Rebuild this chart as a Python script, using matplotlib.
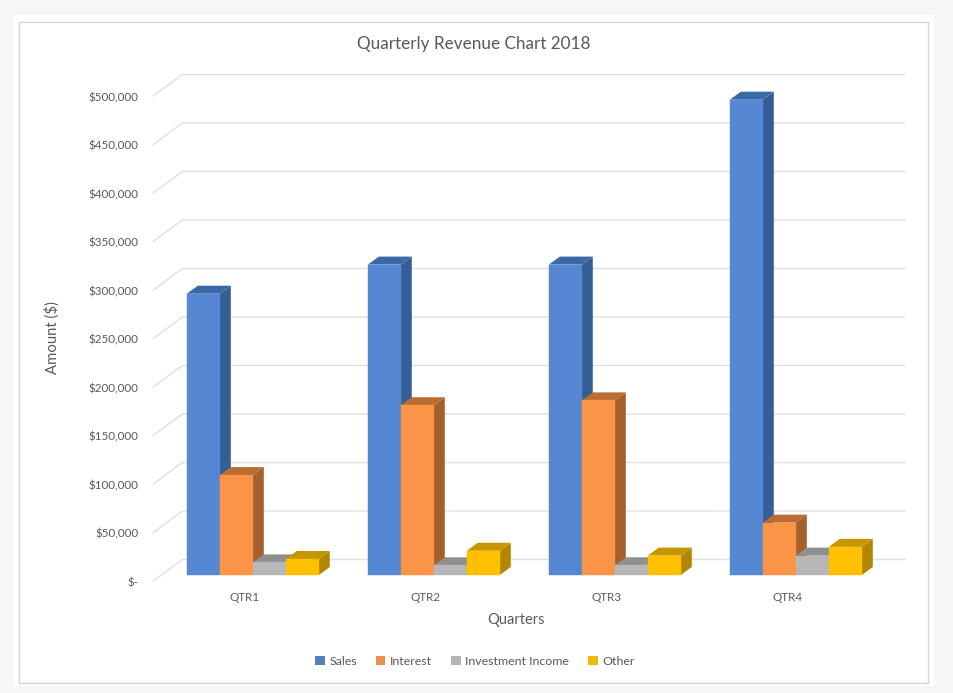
import matplotlib
matplotlib.use("Agg")
import matplotlib.pyplot as plt
from matplotlib.patches import Rectangle, Patch
from matplotlib.transforms import ScaledTranslation

plt.rcParams['font.family'] = ['Lato', 'DejaVu Sans']

quarters = ['QTR1', 'QTR2', 'QTR3', 'QTR4']
sales = [290000, 320000, 320000, 490000]
interest = [103000, 175000, 180000, 54000]
investment = [13000, 10000, 10000, 20000]
other = [16500, 25000, 20000, 29000]
series_names = ['Sales', 'Interest', 'Investment Income', 'Other']
y_ticks = [0, 50000, 100000, 150000, 200000, 250000, 300000, 350000, 400000, 450000, 500000]
y_labels = ['$-', '$50,000', '$100,000', '$150,000', '$200,000', '$250,000',
            '$300,000', '$350,000', '$400,000', '$450,000', '$500,000']
title = 'Quarterly Revenue Chart 2018'

series = [sales, interest, investment, other]
front = ['#5587D3', '#FA9547', '#B7B7B7', '#FFC000']
side = ['#345F96', '#A5602B', '#7F7F7F', '#B28600']
top = ['#3B69A6', '#BC6C33', '#8F8F8F', '#C59600']
legend_cols = ['#4F81BD', '#ED8F4C', '#B4B4B4', '#F2B90F']
text_col = '#595959'

W, H, DPI = 954, 693, 100
fig = plt.figure(figsize=(W / DPI, H / DPI), dpi=DPI, facecolor='#F6F6F6')


def frame(x0, y0, x1, y1, z, **kw):
    fig.add_artist(Rectangle((x0 / W, 1 - y1 / H), (x1 - x0) / W, (y1 - y0) / H,
                             transform=fig.transFigure, zorder=z, **kw))


frame(14, 15, 934, 686, -3, facecolor='white', edgecolor='none')
frame(19.5, 21.5, 928.5, 682.5, -2, facecolor='white', edgecolor='#D6D6D6', linewidth=1)

# Axes rectangle: y=0 at pixel 575, y=500000 at pixel 90
left_px, right_px, bottom_px, top_px = 162.3, 886.3, 575, 90
ax = fig.add_axes([left_px / W, 1 - bottom_px / H, (right_px - left_px) / W, (bottom_px - top_px) / H])
ax.patch.set_alpha(0)
ax.set_xlim(-0.5, 3.5)
ax.set_ylim(0, 500000)
for s in ax.spines.values():
    s.set_visible(False)

x_per_px = 4 / (right_px - left_px)
y_per_px = 500000 / (bottom_px - top_px)
bar_w = 33 * x_per_px
dx, dy = 11 * x_per_px, 8 * y_per_px

# Walls: gridlines with the diagonal floor/side segment
for v in y_ticks:
    x_front = -0.5 - 9 * x_per_px
    x_back = -0.5 + 20 * x_per_px
    x_end = 3.5 + 18.5 * x_per_px
    y_front = v - 6 * y_per_px
    y_back = v + 15.5 * y_per_px
    ax.plot([x_front, x_back, x_end], [y_front, y_back, y_back], color='#E0E0E0',
            lw=1.0, clip_on=False, zorder=1, solid_joinstyle='miter')

# Bars with 3-D side and top faces
for i in range(len(quarters)):
    for j, vals in enumerate(series):
        x0 = i + (j - 2) * bar_w
        x1 = x0 + bar_w
        v = vals[i]
        z = 2 + i * 4 + j
        ax.fill([x1, x1 + dx, x1 + dx, x1], [0, dy, v + dy, v], color=side[j], lw=0, clip_on=False, zorder=z)
        ax.fill([x0, x0 + dx, x1 + dx, x1], [v, v + dy, v + dy, v], color=top[j], lw=0, clip_on=False, zorder=z)
        ax.bar(x0, v, width=bar_w, align='edge', color=front[j], edgecolor=front[j], lw=0.3,
               clip_on=False, zorder=z + 0.5)

ax.set_xticks(range(len(quarters)), quarters)
ax.set_yticks(y_ticks, y_labels)
ax.tick_params(axis='both', length=0, colors=text_col, labelsize=8.4)
ax.tick_params(axis='x', pad=12)
ax.tick_params(axis='y', pad=17.3)
shift_y = ScaledTranslation(0, -6.8 / DPI, fig.dpi_scale_trans)
for lab in ax.get_yticklabels():
    lab.set_transform(lab.get_transform() + shift_y)
shift_x = ScaledTranslation(-8.7 / DPI, 0, fig.dpi_scale_trans)
for lab in ax.get_xticklabels():
    lab.set_transform(lab.get_transform() + shift_x)

ax.set_title(title, fontsize=12.3, color=text_col, x=(473.5 - left_px) / (right_px - left_px),
             y=(bottom_px - 44) / (bottom_px - top_px), va='center', ha='center', pad=0)
ax.set_xlabel('Quarters', fontsize=10.5, color=text_col, va='center')
ax.xaxis.set_label_coords((515.5 - left_px) / (right_px - left_px), (bottom_px - 620) / (bottom_px - top_px))
ax.set_ylabel('Amount ($)', fontsize=10.7, color=text_col, va='center')
ax.yaxis.set_label_coords((52 - left_px) / (right_px - left_px), (bottom_px - 338) / (bottom_px - top_px))

handles = [Patch(facecolor=c, edgecolor='none', label=n) for c, n in zip(legend_cols, series_names)]
ax.legend(handles=handles, ncols=4, frameon=False, loc='center',
          bbox_to_anchor=(475.0 / W, 1 - 661.3 / H), bbox_transform=fig.transFigure,
          fontsize=8.9, labelcolor=text_col, handlelength=0.75, handleheight=0.75,
          handletextpad=0.38, columnspacing=1.55, borderpad=0)

fig.savefig('out.png', dpi=DPI, facecolor=fig.get_facecolor())
